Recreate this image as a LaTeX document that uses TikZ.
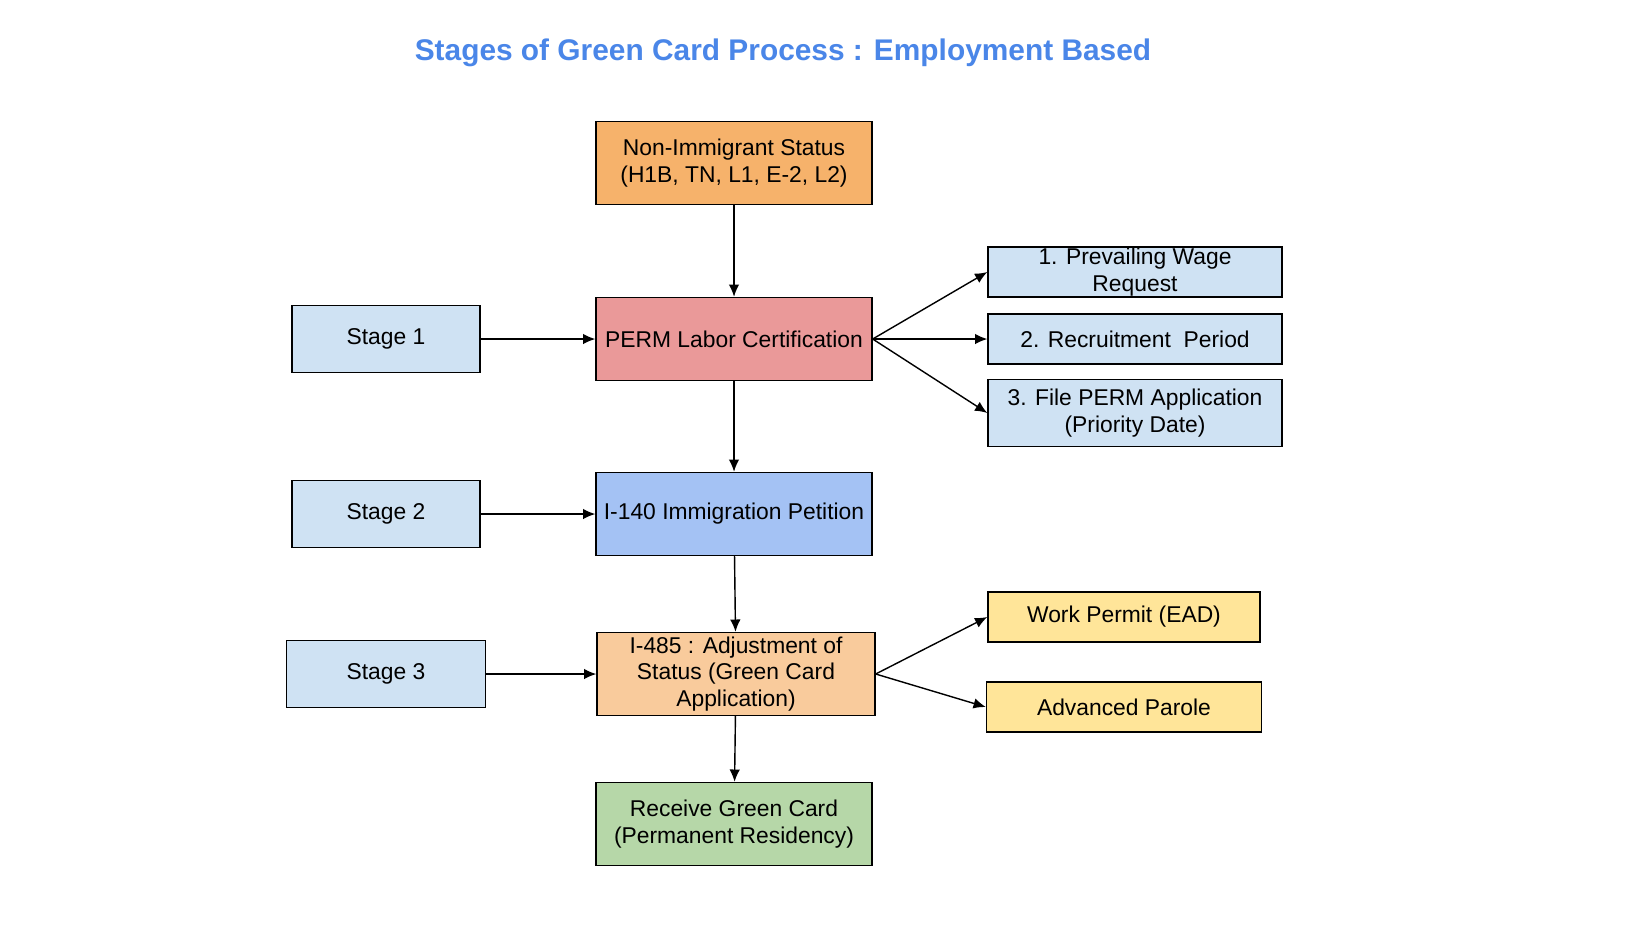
\documentclass[tikz,border=0pt]{standalone}
\usepackage{fontspec}
\setmainfont{Liberation Sans}
\usetikzlibrary{arrows.meta}
\definecolor{cOrange}{HTML}{F6B26B}
\definecolor{cRed}{HTML}{EA9999}
\definecolor{cLight}{HTML}{CFE2F3}
\definecolor{cBlue}{HTML}{A4C2F4}
\definecolor{cPeach}{HTML}{F9CB9C}
\definecolor{cYellow}{HTML}{FFE599}
\definecolor{cGreen}{HTML}{B6D7A8}
\definecolor{cTitle}{HTML}{4A86E8}

\begin{document}
\begin{tikzpicture}[
        x = 0.02cm, y = -0.02cm,
        box/.style = {draw, thick, align=center, font=\fontsize{13}{15}\selectfont, inner sep=0pt},
        main/.style = {box, minimum width=5.52cm, minimum height=1.66cm},
        stage/.style = {box, fill=cLight, minimum width=3.76cm, minimum height=1.34cm},
        permstep/.style = {box, fill=cLight, minimum width=5.88cm, minimum height=1cm},
        side/.style = {box, fill=cYellow, minimum width=5.5cm, minimum height=1cm},
        arr/.style = {thick, -{Latex[length=7pt,width=6pt]}}
    ]
        \useasboundingbox (0, 0) rectangle (1640, 924);

        \node[text=cTitle, font=\fontsize{17}{20}\selectfont\bfseries] (title) at (783, 53) {Stages of Green Card Process : Employment Based};

        \node[main, fill=cOrange] (nis) at (734, 163) {Non-Immigrant Status\\(H1B, TN, L1, E-2, L2)};
        \node[main, fill=cRed] (perm) at (734, 339) {PERM Labor Certification};
        \node[main, fill=cBlue] (i140) at (734, 514) {I-140 Immigration Petition};
        \node[main, fill=cPeach, minimum width=5.56cm] (i485) at (736, 674) {I-485 : Adjustment of\\Status (Green Card\\Application)};
        \node[main, fill=cGreen] (gc) at (734, 824) {Receive Green Card\\(Permanent Residency)};

        \node[stage] (s1) at (386, 339) {Stage 1};
        \node[stage] (s2) at (386, 514) {Stage 2};
        \node[stage, minimum width=3.98cm] (s3) at (386, 674) {Stage 3};

        \node[permstep] (pw) at (1135, 272) {1. Prevailing Wage\\Request};
        \node[permstep] (rp) at (1135, 339) {2. Recruitment\ \ Period};
        \node[permstep, minimum height=1.34cm] (fp) at (1135, 413) {3. File PERM Application\\(Priority Date)};

        \node[side, minimum width=5.44cm] (ead) at (1124, 617) {Work Permit (EAD)};
        \node[side] (ap) at (1124, 707) {Advanced Parole};

        \draw[arr] (nis) -- (perm);
        \draw[arr] (perm) -- (i140);
        \draw[arr] (i140) -- (i485);
        \draw[arr] (i485) -- (gc);

        \draw[arr] (s1) -- (perm);
        \draw[arr] (s2) -- (i140);
        \draw[arr] (s3) -- (i485);

        \draw[arr] (perm.east) -- (pw.west);
        \draw[arr] (perm.east) -- (rp.west);
        \draw[arr] (perm.east) -- (fp.west);
        \draw[arr] (i485.east) -- (ead.west);
        \draw[arr] (i485.east) -- (ap.west);

    \end{tikzpicture}
\end{document}
